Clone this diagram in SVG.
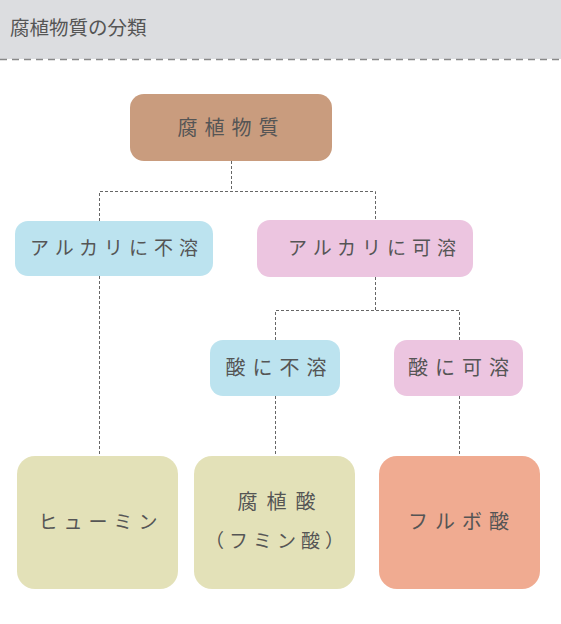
<svg xmlns="http://www.w3.org/2000/svg" width="561" height="624" viewBox="0 0 561 624">
<style>
.t{font-family:"Noto Sans CJK JP","Noto Sans",sans-serif;font-size:19px;fill:#555;text-anchor:middle;letter-spacing:6px}
.f{font-size:20px;letter-spacing:7px}
.c{fill:none;stroke:#666;stroke-width:1;stroke-dasharray:3,2}
</style>
<rect x="0" y="0" width="561" height="59" fill="#dcdde0"/>
<line x1="0" y1="59.5" x2="561" y2="59.5" stroke="#888" stroke-width="1.5" stroke-dasharray="7,5"/>
<text x="10" y="35" style="font-family:'Noto Sans CJK JP','Noto Sans',sans-serif;font-size:19.5px;fill:#555">腐植物質の分類</text>
<g id="connectors">
<path class="c" d="M231.5,161V191.5"/>
<path class="c" d="M99.5,221V191.5H375.5V220"/>
<path class="c" d="M99.5,276V456"/>
<path class="c" d="M375.5,277V310.5"/>
<path class="c" d="M275.5,340V310.5H459.5V340"/>
<path class="c" d="M275.5,396V456"/>
<path class="c" d="M459.5,396V456"/>
</g>
<g id="n1"><rect x="130" y="94" width="202" height="67" rx="14" fill="#c99c7e"/><text class="t f" x="231.5" y="135">腐植物質</text></g>
<g id="n2"><rect x="15" y="221" width="198" height="55" rx="13" fill="#bce3ef"/><text class="t" x="117" y="255">アルカリに不溶</text></g>
<g id="n3"><rect x="257" y="220" width="216" height="57" rx="13" fill="#ecc5e0"/><text class="t" x="375" y="255">アルカリに可溶</text></g>
<g id="n4"><rect x="210" y="340" width="130" height="56" rx="13" fill="#bce3ef"/><text class="t f" x="279.5" y="375">酸に不溶</text></g>
<g id="n5"><rect x="394" y="340" width="129" height="56" rx="13" fill="#ecc5e0"/><text class="t f" x="462" y="375">酸に可溶</text></g>
<g id="n6"><rect x="17" y="456" width="161" height="133" rx="18" fill="#e3e1b8"/><text class="t" x="101" y="529">ヒューミン</text></g>
<g id="n7"><rect x="194" y="456" width="161" height="133" rx="18" fill="#e3e1b8"/><text class="t" x="281" y="509" style="font-size:20px;letter-spacing:9px">腐植酸</text><text class="t" x="277" y="548" style="letter-spacing:5px">（フミン酸）</text></g>
<g id="n8"><rect x="379" y="456" width="161" height="133" rx="18" fill="#f0ab91"/><text class="t f" x="462" y="529">フルボ酸</text></g>
</svg>
